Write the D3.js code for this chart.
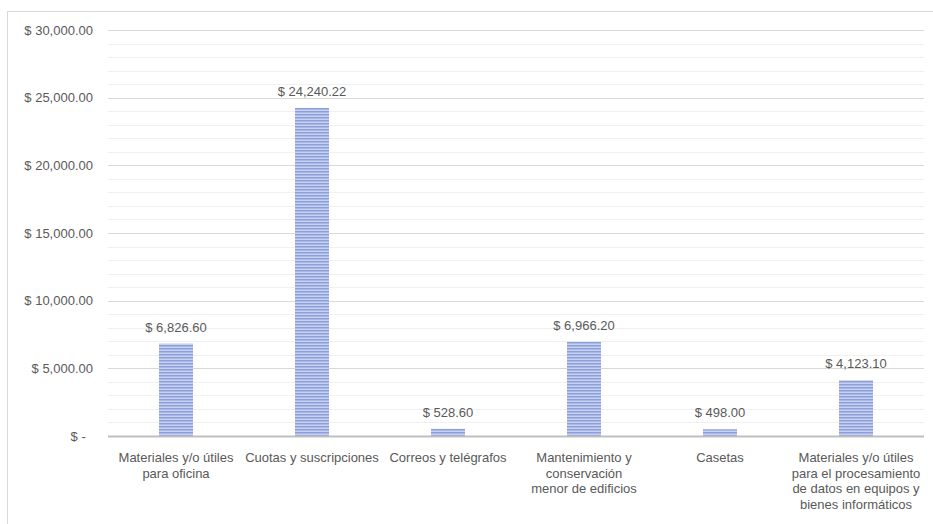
<!DOCTYPE html>
<html>
<head>
<meta charset="utf-8">
<script src="https://cdn.jsdelivr.net/npm/d3@7"></script>
<style>
  html, body { margin: 0; padding: 0; background: #ffffff; }
  svg { display: block; }
  text { font-family: "Liberation Sans", Arial, sans-serif; fill: #595959; }
</style>
</head>
<body>
<svg id="chart" width="933" height="524"></svg>
<script>
const categories = [
  ["Materiales y/o útiles", "para oficina"],
  ["Cuotas y suscripciones"],
  ["Correos y telégrafos"],
  ["Mantenimiento y", "conservación", "menor de edificios"],
  ["Casetas"],
  ["Materiales y/o útiles", "para el procesamiento", "de datos en equipos y", "bienes informáticos"]
];
const values = [6826.60, 24240.22, 528.60, 6966.20, 498.00, 4123.10];
const valueLabels = ["$ 6,826.60", "$ 24,240.22", "$ 528.60", "$ 6,966.20", "$ 498.00", "$ 4,123.10"];
const yTicks = [0, 5000, 10000, 15000, 20000, 25000, 30000];
const yTickLabels = ["$ -\u00a0\u00a0", "$ 5,000.00", "$ 10,000.00", "$ 15,000.00", "$ 20,000.00", "$ 25,000.00", "$ 30,000.00"];
const minorTicks = d3.range(0, 30001, 1000);

const svg = d3.select("#chart");
const mLeft = 108, mRight = 924, mTop = 30, mBottom = 436;

// chart border
svg.append("rect").attr("x", 7.5).attr("y", 11.5).attr("width", 940).attr("height", 530)
  .attr("fill", "none").attr("stroke", "#d9d9d9").attr("stroke-width", 1);

const x = d3.scaleBand().domain(d3.range(categories.length)).range([mLeft, mRight]).paddingInner(0).paddingOuter(0);
const y = d3.scaleLinear().domain([0, 30000]).range([mBottom, mTop]);

// pattern
const defs = svg.append("defs");
const pat = defs.append("pattern").attr("id", "stripes").attr("patternUnits", "userSpaceOnUse")
  .attr("width", 8).attr("height", 3);
pat.append("rect").attr("width", 8).attr("height", 3).attr("fill", "#c8d2f0");
pat.append("rect").attr("y", 0).attr("width", 8).attr("height", 1.5).attr("fill", "#8b9fdb");

// minor gridlines
svg.append("g").selectAll("line").data(minorTicks.filter(d => d % 5000 !== 0)).join("line")
  .attr("x1", mLeft).attr("x2", mRight)
  .attr("y1", d => Math.round(y(d)) + 0.5).attr("y2", d => Math.round(y(d)) + 0.5)
  .attr("stroke", "#f0f0f0").attr("stroke-width", 1);

// major gridlines
svg.append("g").selectAll("line").data(yTicks.filter(d => d > 0)).join("line")
  .attr("x1", mLeft).attr("x2", mRight)
  .attr("y1", d => Math.round(y(d)) + 0.5).attr("y2", d => Math.round(y(d)) + 0.5)
  .attr("stroke", "#d9d9d9").attr("stroke-width", 1);

// y axis labels
const yAxis = d3.axisLeft(y).tickValues(yTicks).tickFormat((d, i) => yTickLabels[i]).tickSize(0).tickPadding(0);
const gy = svg.append("g").attr("transform", `translate(93,0)`).call(yAxis);
gy.select(".domain").remove();
gy.selectAll("text").style("font-size", "13px").attr("fill", "#595959")
  .style("font-family", '"Liberation Sans", Arial, sans-serif');

// bars
const bw = x.bandwidth() * 0.25;
svg.append("g").selectAll("rect").data(values).join("rect")
  .attr("x", (d, i) => x(i) + (x.bandwidth() - bw) / 2)
  .attr("y", d => y(d))
  .attr("width", bw)
  .attr("height", d => y(0) - y(d))
  .attr("fill", "url(#stripes)");

// zero axis line
svg.append("line").attr("x1", mLeft).attr("x2", mRight)
  .attr("y1", Math.round(y(0)) + 0.5).attr("y2", Math.round(y(0)) + 0.5)
  .attr("stroke", "#bfbfbf").attr("stroke-width", 2);

// value labels
svg.append("g").selectAll("text").data(values).join("text")
  .attr("x", (d, i) => x(i) + x.bandwidth() / 2)
  .attr("y", d => y(d) - 12)
  .attr("text-anchor", "middle")
  .style("font-size", "13px")
  .text((d, i) => valueLabels[i]);

// category labels
const cg = svg.append("g").selectAll("text").data(categories).join("text")
  .attr("x", (d, i) => x(i) + x.bandwidth() / 2)
  .attr("y", 462)
  .attr("text-anchor", "middle")
  .style("font-size", "13px");
cg.selectAll("tspan").data(d => d).join("tspan")
  .attr("x", function() { return d3.select(this.parentNode).attr("x"); })
  .attr("dy", (d, i) => i === 0 ? 0 : 15.7)
  .text(d => d);
</script>
</body>
</html>
